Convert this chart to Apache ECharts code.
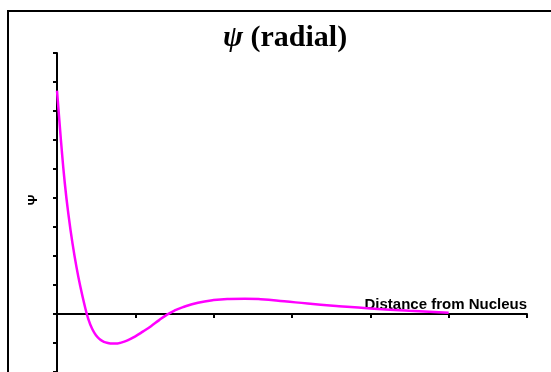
<!DOCTYPE html>
<html>
<head>
<meta charset="utf-8">
<script src="https://cdn.jsdelivr.net/npm/echarts@6/dist/echarts.min.js"></script>
<style>
  html, body { margin: 0; padding: 0; background: #fff; }
  #chart { width: 551px; height: 372px; }
</style>
</head>
<body>
<div id="chart"></div>
<script>
// distance (axis units) and psi values
var distance = [0, 0.05, 0.1, 0.15, 0.2, 0.25, 0.3, 0.35, 0.4, 0.45, 0.5, 0.55, 0.6, 0.65, 0.7, 0.75, 0.8, 0.9, 1.0, 1.1, 1.2, 1.3, 1.4, 1.5, 1.6, 1.8, 2.0, 2.2, 2.4, 2.6, 2.9, 3.2, 3.6, 4.0, 4.5, 5.0];
var psi = [7.7, 6.0, 4.5, 3.35, 2.4, 1.6, 0.92, 0.33, -0.18, -0.52, -0.74, -0.88, -0.96, -1.0, -1.02, -1.02, -1.0, -0.91, -0.77, -0.6, -0.42, -0.22, -0.03, 0.12, 0.23, 0.39, 0.48, 0.52, 0.53, 0.51, 0.44, 0.36, 0.27, 0.19, 0.11, 0.04];

var chart = echarts.init(document.getElementById('chart'));

var points = distance.map(function (d, i) { return [d, psi[i]]; });

chart.setOption({
    animation: false,
    backgroundColor: '#fff',
    title: {
        text: '{i|ψ} (radial)',
        left: 218,
        top: 18,
        textStyle: {
            fontFamily: 'Liberation Serif',
            fontWeight: 'bold',
            fontSize: 30,
            color: '#000',
            rich: {
                i: { fontFamily: 'Liberation Serif', fontStyle: 'italic', fontWeight: 'bold', fontSize: 30, color: '#000' }
            }
        }
    },
    graphic: [
        {
            type: 'rect',
            shape: { x: 8, y: 11, width: 700, height: 500 },
            style: { fill: 'none', stroke: '#000', lineWidth: 2 },
            silent: true
        },
        {
            type: 'text',
            x: 33,
            y: 200,
            rotation: Math.PI / 2,
            style: {
                text: 'Ψ',
                fontFamily: 'Liberation Sans',
                fontWeight: 'bold',
                fontSize: 13,
                fill: '#000',
                align: 'center',
                verticalAlign: 'middle'
            }
        }
    ],
    grid: {
        left: 57,
        top: 53,
        width: 470,
        height: 322.5
    },
    xAxis: {
        type: 'value',
        min: 0,
        max: 6,
        interval: 1,
        name: 'Distance from Nucleus',
        nameLocation: 'end',
        nameGap: 0,
        nameTextStyle: {
            fontFamily: 'Liberation Sans',
            fontWeight: 'bold',
            fontSize: 15,
            color: '#000',
            align: 'right',
            verticalAlign: 'bottom',
            padding: [0, 0, 2, 0]
        },
        axisLine: { onZero: true, lineStyle: { color: '#000', width: 2 } },
        axisTick: { show: true, inside: false, length: 4, lineStyle: { color: '#000', width: 2 } },
        axisLabel: { show: false },
        splitLine: { show: false }
    },
    yAxis: {
        type: 'value',
        min: -2,
        max: 9,
        interval: 1,
        axisLine: { show: true, lineStyle: { color: '#000', width: 2 } },
        axisTick: { show: true, inside: false, length: 4, lineStyle: { color: '#000', width: 2 } },
        axisLabel: { show: false },
        splitLine: { show: false }
    },
    series: [
        {
            type: 'line',
            data: points,
            smooth: 0.5,
            showSymbol: false,
            lineStyle: { color: '#FF00FF', width: 2.5 },
            z: 1
        }
    ]
});
</script>
</body>
</html>
